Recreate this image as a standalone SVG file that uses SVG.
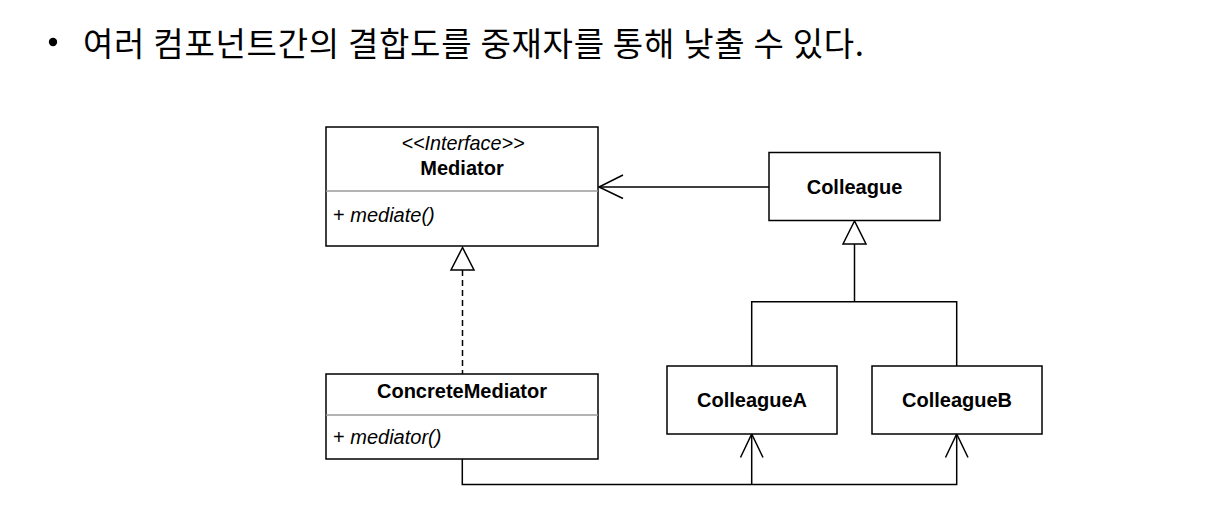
<svg xmlns="http://www.w3.org/2000/svg" width="1209" height="516" viewBox="0 0 1209 516">
<style>
.box{fill:#fff;stroke:#000;stroke-width:1.5}
.sep{stroke:#9a9a9a;stroke-width:1.3}
.t{font-family:"Liberation Sans",Arial,sans-serif;fill:#000}
.b{font-weight:bold;font-size:20px;text-anchor:middle}
.i{font-style:italic}
.m{font-size:20px}
.ln{fill:none;stroke:#000;stroke-width:1.5}
.tri{fill:#fff;stroke:#000;stroke-width:1.5}
</style>
<rect width="1209" height="516" fill="#fff"/>
<g id="title">
<circle cx="53" cy="42" r="4.2" fill="#000"/>
<text x="83" y="56" font-family="'Noto Sans CJK KR','Noto Sans',sans-serif" font-size="33" textLength="781" lengthAdjust="spacing" fill="#000">여러 컴포넌트간의 결합도를 중재자를 통해 낮출 수 있다.</text>
</g>
<g id="connectors">
<line class="ln" x1="769" y1="187" x2="599" y2="187"/>
<polyline class="ln" points="623,175 599,187 623,198.5"/>
<line class="ln" x1="462.5" y1="270" x2="462.5" y2="374" stroke-dasharray="6,4"/>
<polygon class="tri" points="462.5,247.5 451,270 474,270"/>
<polyline class="ln" points="854.5,244 854.5,301.7"/>
<polyline class="ln" points="751.7,366 751.7,301.7 956.7,301.7 956.7,366"/>
<polygon class="tri" points="854.5,221 843,244 866,244"/>
<polyline class="ln" points="462.3,459 462.3,484.5 956.7,484.5 956.7,434"/>
<line class="ln" x1="751.7" y1="484.5" x2="751.7" y2="434"/>
<polyline class="ln" points="740.5,457.5 751.7,434 763,457.5"/>
<polyline class="ln" points="945.5,457.5 956.7,434 968,457.5"/>
</g>
<g id="mediator">
<rect class="box" x="326" y="127" width="272" height="119"/>
<line class="sep" x1="326" y1="191" x2="598" y2="191"/>
<text class="t i" x="463" y="150" font-size="19.8" text-anchor="middle">&lt;&lt;Interface&gt;&gt;</text>
<text class="t b" x="462" y="175">Mediator</text>
<text class="t m" x="333" y="222">+ <tspan class="i">mediate()</tspan></text>
</g>
<g id="concreteMediator">
<rect class="box" x="326" y="374" width="272" height="85"/>
<line class="sep" x1="326" y1="415" x2="598" y2="415"/>
<text class="t b" x="462" y="398">ConcreteMediator</text>
<text class="t m" x="333" y="444">+ <tspan class="i">mediator()</tspan></text>
</g>
<g id="colleague">
<rect class="box" x="769" y="152.5" width="171" height="68"/>
<text class="t b" x="854.5" y="193.5">Colleague</text>
</g>
<g id="colleagueA">
<rect class="box" x="667" y="366" width="170" height="68"/>
<text class="t b" x="752" y="407">ColleagueA</text>
</g>
<g id="colleagueB">
<rect class="box" x="872" y="366" width="170" height="68"/>
<text class="t b" x="957" y="407">ColleagueB</text>
</g>
</svg>
